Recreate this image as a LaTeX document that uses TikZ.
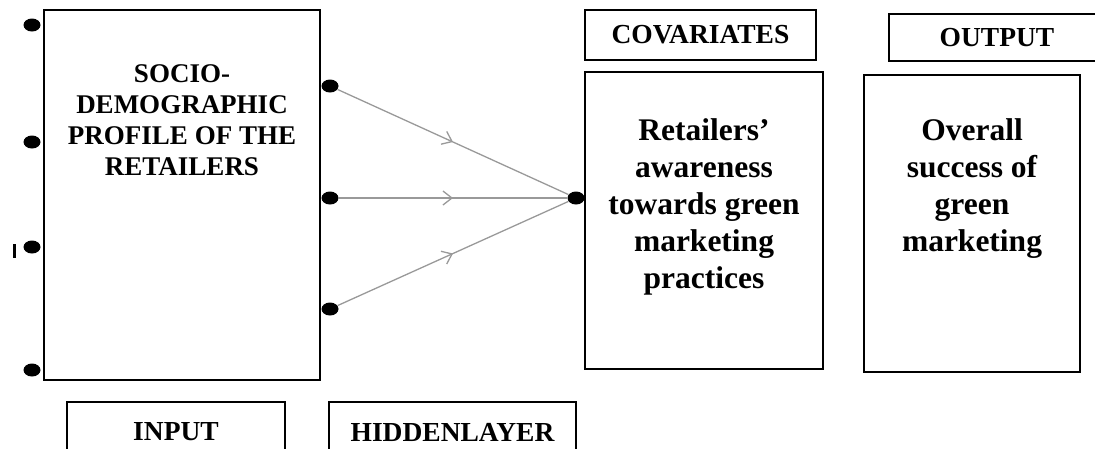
\documentclass[tikz,border=0pt]{standalone}
\usepackage{fontspec}
\setmainfont{Liberation Serif}
\usetikzlibrary{arrows.meta,decorations.markings,positioning,shapes.geometric}

\tikzset{
    frame/.style={draw, line width=1.7pt, inner sep=0pt},
    lbl/.style={font=\fontsize{27.5}{31}\selectfont\bfseries, align=center, inner sep=0pt},
    big/.style={font=\fontsize{31.5}{37}\selectfont\bfseries, align=center, inner sep=0pt},
    dot/.style={ellipse, fill=black, minimum width=17pt, minimum height=13pt, inner sep=0pt},
    link/.style={draw=black!40, line width=1.3pt, postaction={decorate},
        decoration={markings, mark=at position 0.5 with {\arrow{Straight Barb[length=9pt,width=14pt]}}}}
}

\begin{document}
\begin{tikzpicture}[x=1pt,y=1pt,yscale=-1,xscale=1]
        \useasboundingbox (0,0) rectangle (1095,448);
        % boxes
        \node [frame, minimum width=276pt, minimum height=370pt] (inbox) at (182,195) {};
        \node [frame, minimum width=238pt, minimum height=297pt] (covbox) at (704,220.5) {};
        \node [frame, minimum width=216pt, minimum height=297pt] (outbox) at (972,223.5) {};
        \node [frame, minimum width=231pt, minimum height=50pt] (covlbl) at (700.5,35) {};
        \node [frame, minimum width=216pt, minimum height=47pt] (outlbl) at (997,37.5) {};
        \node [frame, minimum width=218pt, minimum height=60pt] (inlbl) at (176,432) {};
        \node [frame, minimum width=247pt, minimum height=60pt] (hidlbl) at (452.5,432) {};
        % texts
        \node [lbl, font=\fontsize{27}{31}\selectfont\bfseries] (intext) at (182,120) {SOCIO-\\DEMOGRAPHIC\\PROFILE OF THE\\RETAILERS};
        \node [big] (covtext) at (704,206.5) {Retailers’\\awareness\\towards green\\marketing\\practices};
        \node [big] (outtext) at (972,189) {Overall\\success of\\green\\marketing};
        \node [lbl] at (covlbl) {COVARIATES};
        \node [lbl] at (outlbl) {OUTPUT};
        \node [lbl] at (inlbl.center) {INPUT};
        \node [lbl] at (hidlbl.center) {HIDDENLAYER};
        % dots
        \node [dot] (l1) at (32,25) {};
        \node [dot] (l2) at (32,142) {};
        \node [dot] (l3) at (32,247) {};
        \node [dot] (l4) at (32,370) {};
        \fill (12.5,244) rectangle (15.5,258);
        \node [dot] (h1) at (330,86) {};
        \node [dot] (h2) at (330,198) {};
        \node [dot] (h3) at (330,309) {};
        \node [dot] (hub) at (576,198) {};
        % connectors
        \foreach \n in {h1,h2,h3}
            \draw [link] (\n) -- (hub);
    \end{tikzpicture}
\end{document}
